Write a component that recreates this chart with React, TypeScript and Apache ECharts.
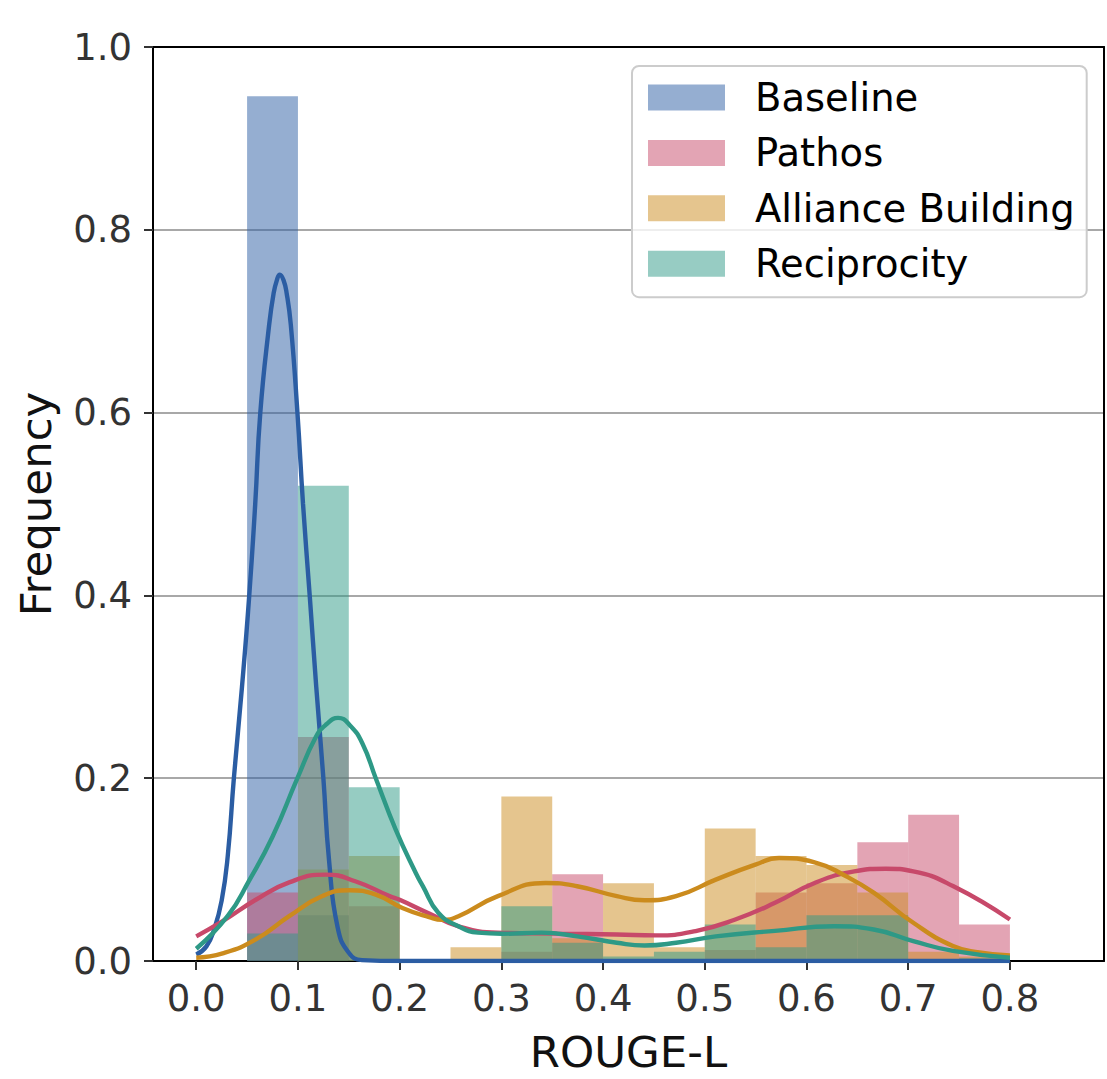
import React, { useEffect, useRef } from "react";
import * as echarts from "echarts";

// ---- Data ----
const binEdges = [0, 0.05, 0.1, 0.15, 0.2, 0.25, 0.3, 0.35, 0.4, 0.45, 0.5, 0.55, 0.6, 0.65, 0.7, 0.75, 0.8];
const seriesNames = ["Baseline", "Pathos", "Alliance Building", "Reciprocity"];

const baselineHist = [0, 0.946, 0.05, 0, 0, 0, 0, 0, 0, 0, 0, 0, 0, 0, 0, 0];
const pathosHist = [0, 0.075, 0.245, 0.06, 0, 0, 0.01, 0.095, 0, 0, 0.012, 0.075, 0.085, 0.13, 0.16, 0.04];
const allianceHist = [0, 0, 0.1, 0.115, 0, 0.015, 0.18, 0.025, 0.085, 0.015, 0.145, 0.115, 0.105, 0.075, 0.01, 0.005];
const reciprocityHist = [0, 0.03, 0.52, 0.19, 0, 0, 0.06, 0.02, 0.005, 0.01, 0.04, 0.015, 0.05, 0.05, 0, 0.003];

const baselineKde = [
  [0, 0.007], [0.01, 0.016], [0.0177, 0.035], [0.025, 0.066], [0.031, 0.115], [0.037, 0.2],
  [0.045, 0.3], [0.052, 0.398], [0.058, 0.5], [0.063, 0.6], [0.0717, 0.696], [0.076, 0.73],
  [0.0793, 0.745], [0.0822, 0.751], [0.0858, 0.745], [0.089, 0.73], [0.093, 0.696], [0.0995, 0.6],
  [0.105, 0.5], [0.1117, 0.398], [0.118, 0.3], [0.125, 0.2], [0.1306, 0.11], [0.139, 0.037],
  [0.15, 0.009], [0.163, 0.001], [0.2, 0], [0.3, 0], [0.4, 0], [0.5, 0], [0.6, 0], [0.7, 0], [0.8, 0],
];
const pathosKde = [
  [0, 0.027], [0.026, 0.0436], [0.0586, 0.067], [0.0914, 0.086], [0.1274, 0.0945], [0.157, 0.087],
  [0.19, 0.071], [0.2, 0.067], [0.229, 0.052], [0.258, 0.038], [0.2966, 0.031], [0.355, 0.03],
  [0.4135, 0.029], [0.452, 0.028], [0.491, 0.0327], [0.53, 0.0454], [0.569, 0.0636], [0.608, 0.0854],
  [0.647, 0.098], [0.678, 0.101], [0.705, 0.098], [0.744, 0.082], [0.8, 0.0454],
];
const allianceKde = [
  [0, 0.0036], [0.026, 0.0084], [0.0586, 0.0236], [0.0914, 0.049], [0.124, 0.071], [0.1503, 0.0774],
  [0.1765, 0.0727], [0.2027, 0.058], [0.229, 0.048], [0.242, 0.045], [0.2578, 0.049], [0.2966, 0.071],
  [0.3434, 0.0854], [0.3745, 0.0818], [0.4135, 0.071], [0.4407, 0.0665], [0.4718, 0.071], [0.5108, 0.089],
  [0.5497, 0.1054], [0.573, 0.1127], [0.608, 0.108], [0.639, 0.0927], [0.6664, 0.0745], [0.705, 0.0418],
  [0.744, 0.0164], [0.77, 0.0095], [0.8, 0.006],
];
const reciprocityKde = [
  [0, 0.0134], [0.0308, 0.049], [0.052, 0.088], [0.075, 0.136], [0.0995, 0.2], [0.1176, 0.245],
  [0.128, 0.259], [0.1395, 0.266], [0.151, 0.258], [0.1634, 0.238], [0.1765, 0.2], [0.196, 0.144],
  [0.216, 0.096], [0.2228, 0.082], [0.238, 0.0527], [0.2578, 0.038], [0.277, 0.031], [0.3006, 0.0298],
  [0.3395, 0.031], [0.3745, 0.027], [0.4135, 0.02], [0.4407, 0.017], [0.4718, 0.02], [0.5108, 0.027],
  [0.569, 0.033], [0.6275, 0.038], [0.666, 0.0345], [0.705, 0.0218], [0.744, 0.011], [0.8, 0.0036],
];

const xTicks = [0, 0.1, 0.2, 0.3, 0.4, 0.5, 0.6, 0.7, 0.8];

// ---- Styles ----
const baseColors = ["#2B5DA3", "#C7496A", "#CB8B1D", "#2E9986"];
const lightColors = ["#95AED1", "#E3A4B4", "#E5C58E", "#97CCC3"];
const FONT = "DejaVu Sans";

function rgba(hex: string, a: number) {
  const n = parseInt(hex.slice(1), 16);
  return `rgba(${(n >> 16) & 255},${(n >> 8) & 255},${n & 255},${a})`;
}

export default function App() {
  const ref = useRef<HTMLDivElement>(null);
  useEffect(() => {
    if (!ref.current) return;
    const chart = echarts.init(ref.current, null, { renderer: "svg" });
    const hists = [baselineHist, pathosHist, allianceHist, reciprocityHist];
    const kdes = [baselineKde, pathosKde, allianceKde, reciprocityKde];

    const barSeries = hists.map((vals, si) => ({
      type: "custom",
      name: seriesNames[si],
      xAxisIndex: 0,
      yAxisIndex: 0,
      z: 2,
      itemStyle: { color: lightColors[si] },
      encode: { x: [0, 1], y: 2 },
      data: vals
        .map((v, i) => [binEdges[i], binEdges[i + 1], v])
        .filter((d) => d[2] > 0),
      renderItem: (params: any, api: any) => {
        const x0 = api.value(0);
        const x1 = api.value(1);
        const h = api.value(2);
        const a = api.coord([x0, 0]);
        const b = api.coord([x1, h]);
        return {
          type: "rect",
          shape: { x: a[0], y: b[1], width: b[0] - a[0], height: a[1] - b[1] },
          style: { fill: rgba(baseColors[si], 0.5) },
        };
      },
    }));

    const lineSeries = kdes.map((pts, si) => ({
      type: "line",
      name: seriesNames[si] + " KDE",
      xAxisIndex: 0,
      yAxisIndex: 0,
      z: 3,
      data: pts,
      smooth: 0.5,
      showSymbol: false,
      symbol: "none",
      lineStyle: { color: baseColors[si], width: 4.4 },
      itemStyle: { color: baseColors[si] },
    }));

    chart.setOption({
      animation: false,
      backgroundColor: "#ffffff",
      textStyle: { fontFamily: FONT },
      grid: { left: 153, top: 47, right: 3, bottom: 114, containLabel: false },
      legend: {
        orient: "vertical",
        left: 632,
        top: 66,
        itemWidth: 77,
        itemHeight: 26,
        itemGap: 16.4,
        icon: "rect",
        padding: [12, 12, 14, 16],
        backgroundColor: "rgba(255,255,255,0.8)",
        borderColor: "#cccccc",
        borderWidth: 2,
        borderRadius: 7,
        textStyle: {
          fontSize: 38.5,
          color: "#000000",
          fontFamily: FONT,
          padding: [0, 0, 0, 25],
        },
        data: seriesNames.map((n, i) => ({
          name: n,
          itemStyle: { color: lightColors[i], opacity: 1 },
        })),
      },
      xAxis: [
        {
          type: "value",
          min: -0.0425,
          max: 0.8925,
          name: "ROUGE-L",
          nameLocation: "middle",
          nameGap: 69,
          nameTextStyle: { fontSize: 43.5, color: "#111111", fontFamily: FONT },
          axisLine: { show: true, onZero: false, lineStyle: { color: "#000000", width: 2 } },
          axisTick: {
            show: true,
            customValues: xTicks,
            length: 9,
            lineStyle: { color: "#333333", width: 2 },
          },
          axisLabel: {
            show: true,
            customValues: xTicks,
            fontSize: 37,
            color: "#333333",
            margin: 19,
            fontFamily: FONT,
            formatter: (v: number) => v.toFixed(1),
          },
          splitLine: { show: false },
        },
        {
          type: "value",
          position: "top",
          min: -0.0425,
          max: 0.8925,
          axisLine: { show: true, onZero: false, lineStyle: { color: "#000000", width: 2 } },
          axisTick: { show: false },
          axisLabel: { show: false },
          splitLine: { show: false },
        },
      ],
      yAxis: [
        {
          type: "value",
          min: 0,
          max: 1,
          interval: 0.2,
          name: "Frequency",
          nameLocation: "middle",
          nameGap: 95,
          nameTextStyle: { fontSize: 43.5, color: "#111111", fontFamily: FONT },
          axisLine: { show: true, onZero: false, lineStyle: { color: "#000000", width: 2 } },
          axisTick: { show: true, length: 9, lineStyle: { color: "#333333", width: 2 } },
          axisLabel: {
            fontSize: 37,
            color: "#333333",
            margin: 21,
            fontFamily: FONT,
            formatter: (v: number) => v.toFixed(1),
          },
          splitLine: { show: true, lineStyle: { color: "#a8a8a8", width: 2 } },
        },
        {
          type: "value",
          position: "right",
          min: 0,
          max: 1,
          interval: 0.2,
          axisLine: { show: true, onZero: false, lineStyle: { color: "#000000", width: 2 } },
          axisTick: { show: false },
          axisLabel: { show: false },
          splitLine: { show: false },
        },
      ],
      series: [...barSeries, ...lineSeries],
    });
    return () => chart.dispose();
  }, []);
  return (
    <div
      ref={ref}
      style={{ position: "absolute", left: 0, top: 0, width: 1107, height: 1079 }}
    />
  );
}
